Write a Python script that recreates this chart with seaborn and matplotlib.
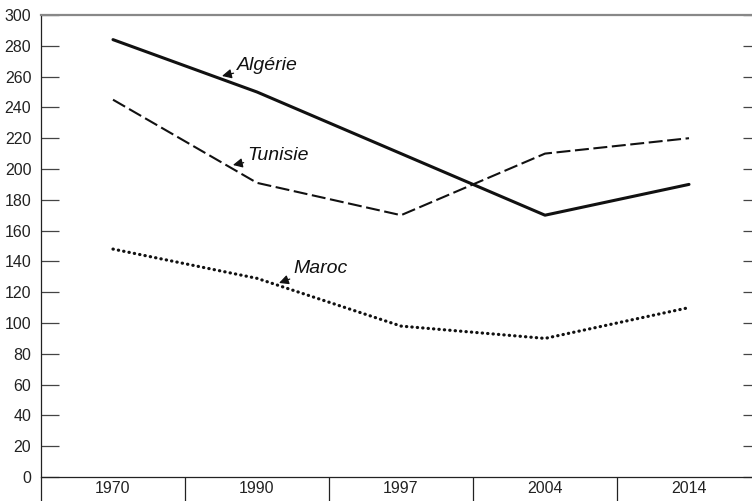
import matplotlib
matplotlib.use("Agg")
import matplotlib.pyplot as plt
import seaborn as sns
import pandas as pd
import numpy as np

years = ["1970", "1990", "1997", "2004", "2014"]
algerie = [284, 250, 210, 170, 190]
tunisie = [245, 191, 170, 210, 220]
maroc = [148, 129, 98, 90, 110]
y_ticks = list(range(0, 301, 20))

sns.set_style("white")
plt.rcParams['font.family'] = ['Liberation Sans', 'DejaVu Sans']

df = pd.DataFrame({
    "year": years * 3,
    "pos": list(range(len(years))) * 3,
    "value": algerie + tunisie + maroc,
    "pays": ["Algérie"] * 5 + ["Tunisie"] * 5 + ["Maroc"] * 5,
})

fig = plt.figure(figsize=(7.52, 5.01), dpi=100)
ax = fig.add_axes([41/752, 24/501, 720/752, 462/501])

styles = {
    "Algérie": dict(ls="-", lw=2.2, cap="butt"),
    "Tunisie": dict(ls=(0, (6.7, 2.2)), lw=1.5, cap="butt"),
    "Maroc": dict(ls=(0, (0.1, 1.6)), lw=2.3, cap="round"),
}
for name, st in styles.items():
    sub = df[df.pays == name]
    sns.lineplot(data=sub, x="pos", y="value", ax=ax, color="#111111",
                 linestyle=st["ls"], linewidth=st["lw"], legend=False,
                 dash_capstyle=st["cap"])

ax.set_xlim(-0.5, len(years) - 0.5)
ax.set_ylim(0, 300)
ax.set_xlabel("")
ax.set_ylabel("")

ax.set_xticks(range(len(years)))
ax.set_xticklabels(years, fontsize=11.5, color="#222222")
ax.set_xticks(np.arange(-0.5, len(years), 1.0), minor=True)
ax.tick_params(axis="x", which="major", bottom=True, length=0, pad=3)
ax.tick_params(axis="x", which="minor", bottom=True, length=22, width=0.9,
               direction="out", color="#222222")

ax.set_yticks(y_ticks)
ax.set_yticklabels([str(v) for v in y_ticks], fontsize=11.5, color="#222222")
ax.tick_params(axis="y", which="major", left=True, right=True, direction="in",
               length=13, width=0.9, color="#444444", pad=7)

for s in ["left", "bottom"]:
    ax.spines[s].set_color("#222222")
    ax.spines[s].set_linewidth(0.9)
ax.spines["top"].set_color("#888888")
ax.spines["top"].set_linewidth(1.6)
ax.spines["right"].set_visible(False)

arrow = dict(arrowstyle="-|>", color="#111111", lw=0.9, mutation_scale=14,
             shrinkA=0, shrinkB=0)
fs = 14
ax.annotate("Algérie", xy=(0.757, 260.4), xytext=(0.86, 267.5), fontsize=fs,
            style="italic", va="center", ha="left", arrowprops=arrow, color="#111111")
ax.annotate("Tunisie", xy=(0.833, 202.6), xytext=(0.93, 209), fontsize=fs,
            style="italic", va="center", ha="left", arrowprops=arrow, color="#111111")
ax.annotate("Maroc", xy=(1.153, 126), xytext=(1.25, 135.7), fontsize=fs,
            style="italic", va="center", ha="left", arrowprops=arrow, color="#111111")

fig.savefig("out.png", dpi=100)
